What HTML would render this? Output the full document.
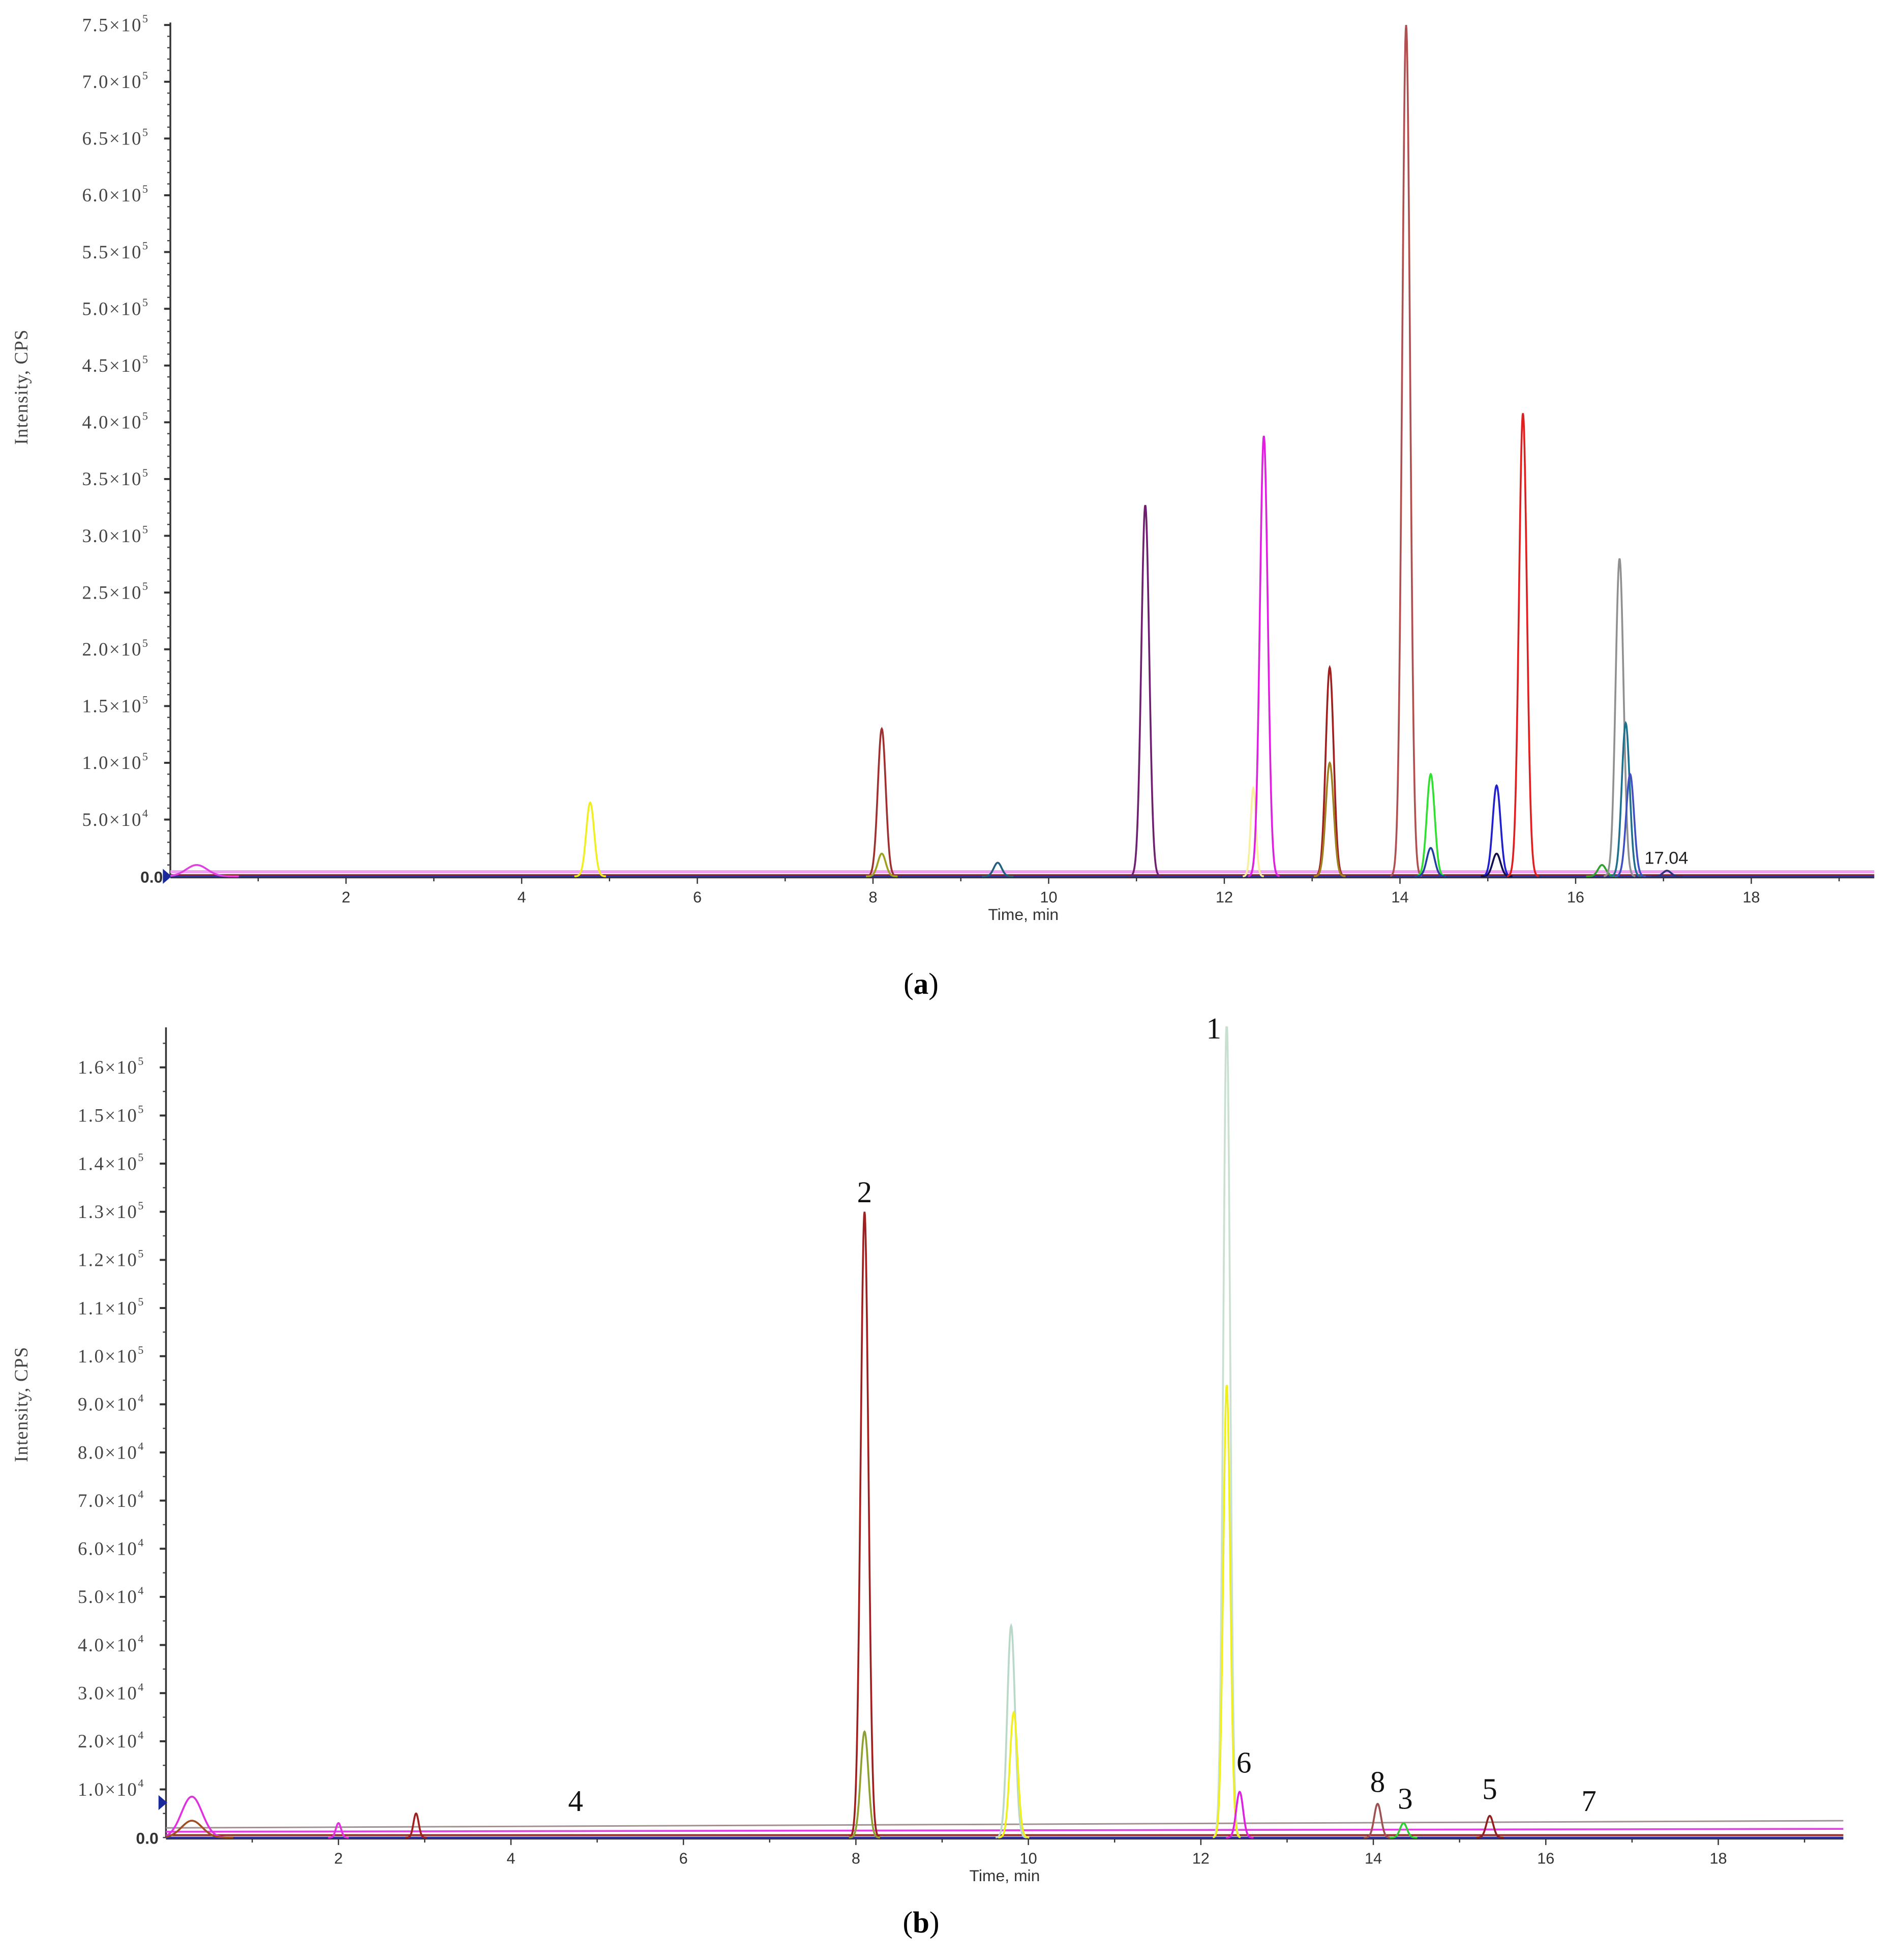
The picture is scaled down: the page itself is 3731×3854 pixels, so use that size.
<!DOCTYPE html>
<html><head><meta charset="utf-8"><style>
html,body{margin:0;padding:0;background:#fff;}
svg{display:block;}
</style></head><body>
<svg id="fig" width="3731" height="3854" viewBox="0 0 1520 1570.1" xmlns="http://www.w3.org/2000/svg">
<rect x="0" y="0" width="1520" height="1571" fill="#fff"/>
<g id="pa"></g>
<g id="pb"></g>
</svg>
<script>
// ---- Panel A data (intensity in units of 1e5 CPS) ----
const aPeakTimes   = [0.3, 4.78, 8.1, 8.1, 9.42, 11.1, 12.33, 12.45, 13.2, 13.2, 14.07, 14.35, 14.35, 15.1, 15.1, 15.4, 16.3, 16.5, 16.57, 16.62, 17.04];
const aPeakHeights = [0.1, 0.65, 1.3, 0.2, 0.12, 3.27, 0.78, 3.88, 1.84, 1.0, 7.5, 0.9, 0.25, 0.8, 0.2, 4.08, 0.1, 2.8, 1.35, 0.9, 0.05];
const aPeakWidths  = [0.12, 0.045, 0.045, 0.045, 0.045, 0.045, 0.03, 0.045, 0.045, 0.045, 0.045, 0.045, 0.045, 0.045, 0.045, 0.045, 0.045, 0.045, 0.045, 0.045, 0.045];
const aPeakColors  = ["#e040e0","#f0f020","#a03030","#a0a020","#206080","#702070","#f8f0a0","#e020e0","#a02020","#a08020","#b05050","#30e030","#2040a0","#2020d0","#101050","#e02020","#30a030","#909090","#207090","#4050c0","#303080"];
const aYTickVals   = [0.5,1.0,1.5,2.0,2.5,3.0,3.5,4.0,4.5,5.0,5.5,6.0,6.5,7.0,7.5];
const aYTickLabels = [["5.0","4"],["1.0","5"],["1.5","5"],["2.0","5"],["2.5","5"],["3.0","5"],["3.5","5"],["4.0","5"],["4.5","5"],["5.0","5"],["5.5","5"],["6.0","5"],["6.5","5"],["7.0","5"],["7.5","5"]];
const aXTicks      = [2,4,6,8,10,12,14,16,18];

// ---- Panel B data (intensity in units of 1e4 CPS) ----
const bPeakTimes   = [0.3, 0.3, 2.0, 2.9, 8.1, 8.1, 9.8, 9.83, 12.3, 12.3, 12.45, 14.05, 14.35, 15.35];
const bPeakHeights = [0.85, 0.35, 0.3, 0.5, 13.0, 2.2, 4.4, 2.6, 17.0, 9.4, 0.95, 0.7, 0.3, 0.45];
const bPeakWidths  = [0.12, 0.12, 0.03, 0.03, 0.045, 0.045, 0.045, 0.045, 0.04, 0.04, 0.04, 0.04, 0.04, 0.04];
const bPeakColors  = ["#e030e0","#a05020","#e030e0","#a02020","#a02020","#90a030","#b8d8c8","#f0f020","#c8e0d0","#f0f020","#e020e0","#a05050","#30d030","#902020"];
const bYTickVals   = [1,2,3,4,5,6,7,8,9,10,11,12,13,14,15,16];
const bYTickLabels = [["1.0","4"],["2.0","4"],["3.0","4"],["4.0","4"],["5.0","4"],["6.0","4"],["7.0","4"],["8.0","4"],["9.0","4"],["1.0","5"],["1.1","5"],["1.2","5"],["1.3","5"],["1.4","5"],["1.5","5"],["1.6","5"]];
const bXTicks      = [2,4,6,8,10,12,14,16,18];
const bNumLabels   = ["1","2","6","4","8","3","5","7"];
const bNumTimes    = [12.15, 8.1, 12.5, 4.75, 14.05, 14.37, 15.35, 16.5];
const bNumLevels   = [16.6, 13.2, 1.35, 0.55, 0.95, 0.6, 0.8, 0.55];

const NS="http://www.w3.org/2000/svg";
function mk(tag, attrs, parent){const e=document.createElementNS(NS,tag);for(const k in attrs)e.setAttribute(k,attrs[k]);parent.appendChild(e);return e;}

function drawPanel(g, cfg){
  const X = t => cfg.x0 + t*cfg.px;
  const Y = v => cfg.y0 - v*cfg.py;
  let ya = mk('line',{x1:cfg.x0,y1:cfg.yTop,x2:cfg.x0,y2:cfg.y0,stroke:'#333','stroke-width':1.4},g);
  
  
  let xa = mk('line',{x1:cfg.x0,y1:cfg.y0+1,x2:X(cfg.xMax),y2:cfg.y0+1,stroke:'#333','stroke-width':1.2},g);
  
  
  for(let v=0; v<=cfg.yMaxMinor+1e-9; v+=cfg.minor){
    let t=mk('line',{x1:cfg.x0-2.5,y1:Y(v),x2:cfg.x0,y2:Y(v),stroke:'#444','stroke-width':1},g);
    
    
  }
  cfg.yVals.forEach((v,i)=>{
    let t=mk('line',{x1:cfg.x0-5,y1:Y(v),x2:cfg.x0,y2:Y(v),stroke:'#333','stroke-width':1.6},g);
    
    
    let tx=mk('text',{x:cfg.x0-17,y:Y(v)+5,'text-anchor':'end','font-family':'"Liberation Serif","Noto Serif CJK SC",serif','font-size':15,'letter-spacing':'1',fill:'#444'},g);
    tx.innerHTML=cfg.yLabels[i][0]+"×10<tspan font-size='9' dy='-7'>"+cfg.yLabels[i][1]+"</tspan>";
    
    
  });
  let z=mk('text',{x:cfg.x0-6,y:cfg.y0+5,'text-anchor':'end','font-family':'"Liberation Sans",sans-serif','font-size':13,'font-weight':'bold',fill:'#333'},g);
  z.textContent="0.0";
  
  
  let mrk=mk('polygon',{points:`${cfg.x0-6},${cfg.markerY-6} ${cfg.x0+1},${cfg.markerY} ${cfg.x0-6},${cfg.markerY+6}`,fill:'#1a2a9a'},g);
  
  
  for(let t=1;t<cfg.xMax;t++){
    let l=mk('line',{x1:X(t),y1:cfg.y0+1,x2:X(t),y2:cfg.y0+(t%2?4:6),stroke:'#333','stroke-width':1},g);
    
    
  }
  cfg.xTicks.forEach(t=>{
    let tx=mk('text',{x:X(t),y:cfg.y0+21,'text-anchor':'middle','font-family':'"Liberation Sans",sans-serif','font-size':12.5,fill:'#333'},g);
    tx.textContent=t;
    
    
  });
  cfg.baselines.forEach(b=>{
    let l=mk('line',{x1:cfg.x0,y1:Y(b.v),x2:X(cfg.xMax),y2:Y(b.v2===undefined?b.v:b.v2),stroke:b.c,'stroke-width':b.w||1.6},g);
    
    
  });
  cfg.times.forEach((t0,i)=>{
    const h=cfg.heights[i], s=cfg.widths[i];
    let d='';
    for(let k=-40;k<=40;k++){
      const t=t0+k*s/10;
      if(t<0) continue;
      const v=h*Math.exp(-0.5*Math.pow((t-t0)/s,2));
      d+=(d?'L':'M')+X(t).toFixed(2)+','+Math.max(cfg.yTop,Y(v)).toFixed(2);
    }
    let p=mk('path',{d:d,fill:'none',stroke:cfg.colors[i],'stroke-width':1.5},g);
    
    
  });
  let xt=mk('text',{x:cfg.xTitleX,y:cfg.y0+35,'text-anchor':'middle','font-family':'"Liberation Sans",sans-serif','font-size':13,fill:'#333'},g);
  xt.textContent="Time, min";
  
  
  let yt=mk('text',{x:0,y:0,transform:`translate(22,${cfg.yTitleY}) rotate(-90)`,'text-anchor':'middle','font-family':'"Liberation Serif",serif','font-size':15,fill:'#444','letter-spacing':'0.5'},g);
  yt.textContent="Intensity, CPS";
  
  
  let pl=mk('text',{x:738,y:cfg.panelY,'text-anchor':'middle','font-family':'"Liberation Serif",serif','font-size':24,fill:'#000'},g);
  pl.innerHTML='(<tspan font-weight="bold">'+cfg.panel+'</tspan>)';
  
  
  return {X,Y};
}

const A = drawPanel(document.getElementById('pa'),{
  x0:136.5,y0:702,yTop:18,px:70.375,py:90.93,xMax:19.4,minor:0.1,yMaxMinor:7.5,
  yVals:aYTickVals,yLabels:aYTickLabels,xTicks:aXTicks,markerY:702,
  times:aPeakTimes,heights:aPeakHeights,widths:aPeakWidths,colors:aPeakColors,
  baselines:[{v:0.04,c:'#f0a0f0',w:2.5},{v:0.01,c:'#a02020'},{v:0.0,c:'#3030a0',w:1.2}],
  xTitleX:820,yTitleY:310,panelY:796,panel:'a'
});
const at=A.X(17.04);
let lbl=document.createElementNS(NS,'text');
lbl.setAttribute('x',at-18);lbl.setAttribute('y',A.Y(0.1)-1);
lbl.setAttribute('font-family','"Liberation Sans",sans-serif');lbl.setAttribute('font-size',14);lbl.setAttribute('fill','#222');
lbl.textContent="17.04";


document.getElementById('pa').appendChild(lbl);

const B = drawPanel(document.getElementById('pb'),{
  x0:133,y0:1472,yTop:823,px:69.1,py:38.56,xMax:19.45,minor:0.5,yMaxMinor:16.5,
  yVals:bYTickVals,yLabels:bYTickLabels,xTicks:bXTicks,markerY:1444,
  times:bPeakTimes,heights:bPeakHeights,widths:bPeakWidths,colors:bPeakColors,
  baselines:[{v:0.2,v2:0.35,c:'#a09090',w:1.2},{v:0.12,v2:0.18,c:'#e040e0',w:1.5},{v:0.05,c:'#a02020',w:1.5},{v:0.0,c:'#3030a0',w:1.5}],
  xTitleX:805,yTitleY:1125,panelY:1548,panel:'b'
});
bNumLabels.forEach((s,i)=>{
  let t=document.createElementNS(NS,'text');
  t.setAttribute('x',B.X(bNumTimes[i]));t.setAttribute('y',B.Y(bNumLevels[i]));
  t.setAttribute('text-anchor','middle');
  t.setAttribute('font-family','"Liberation Serif",serif');t.setAttribute('font-size',24);t.setAttribute('fill','#111');
  t.textContent=s;
  
  
  document.getElementById('pb').appendChild(t);
});
</script>
</body></html>
